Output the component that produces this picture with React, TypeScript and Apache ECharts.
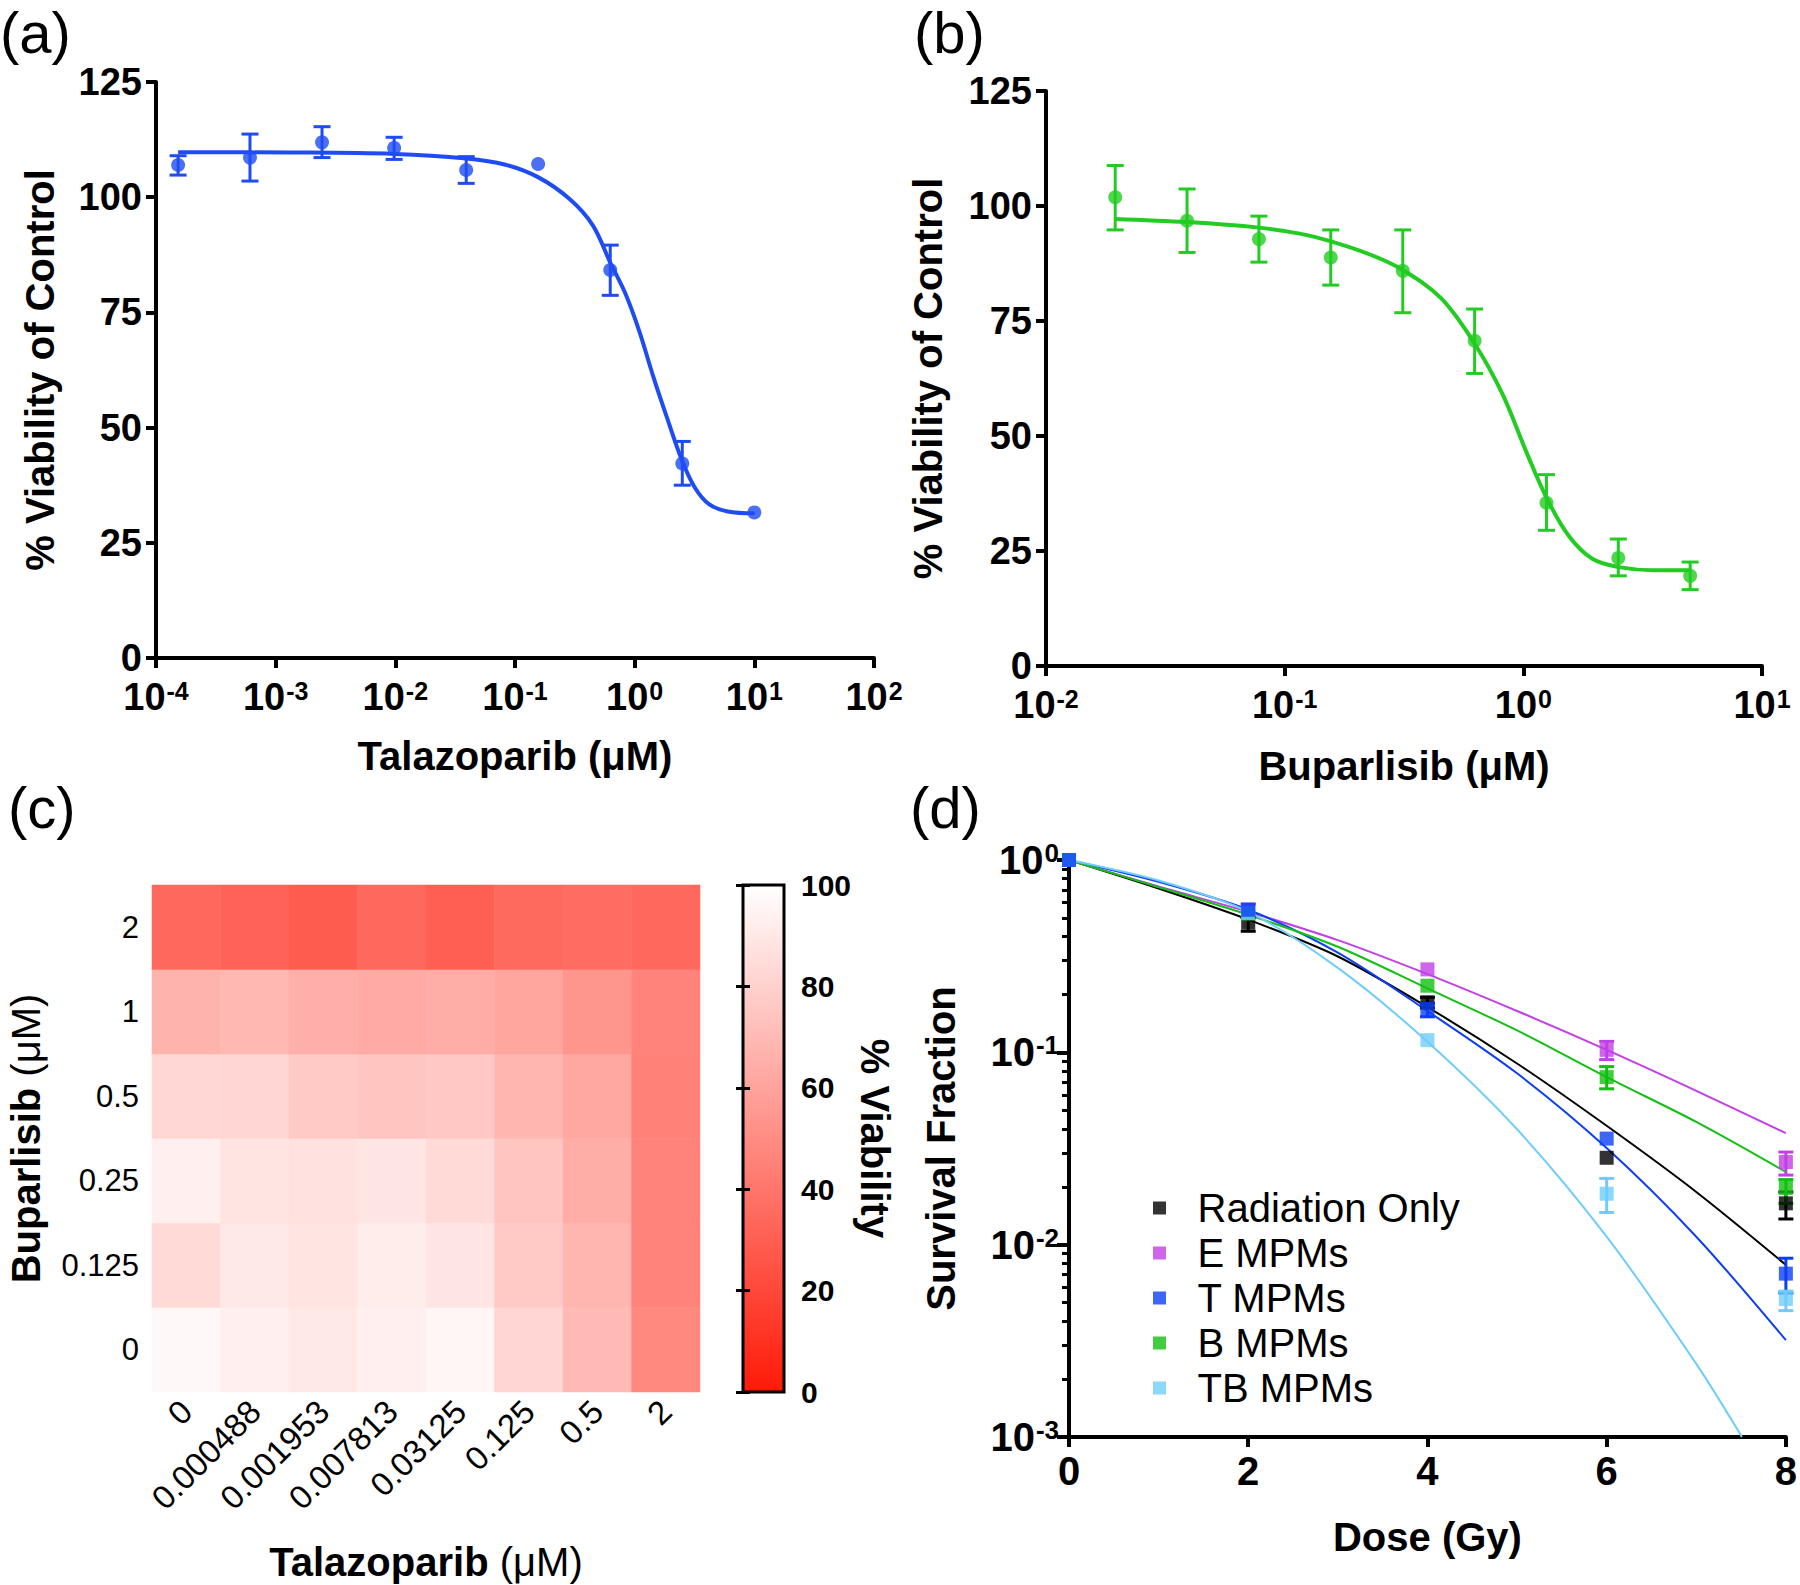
import React, { useEffect, useRef } from 'react';
import * as echarts from 'echarts';

const FONT = '"Liberation Sans", Arial, Helvetica, sans-serif';

// ---------- (a) Talazoparib dose response ----------
const talaDose = [0.000153, 0.00061, 0.00244, 0.00977, 0.0391, 0.156, 0.625, 2.5, 10];
const talaMean = [107.0, 108.6, 111.9, 110.7, 105.9, 107.2, 84.2, 42.2, 31.6];
const talaLow = [104.8, 103.5, 108.6, 108.2, 103.0, null, 78.7, 37.5, null];
const talaHigh = [109.0, 113.7, 115.3, 113.0, 108.8, null, 89.6, 47.0, null];
const talaFitDose = [0.000153, 0.00134, 0.0098, 0.0393, 0.0818, 0.157, 0.286, 0.447, 0.628, 0.836, 1.094, 1.429, 1.871, 2.512, 3.199, 4.178, 5.984, 10.05];
const talaFitViab = [109.75, 109.7, 109.4, 108.4, 107.1, 104.3, 99.6, 93.9, 85.7, 79.1, 70.9, 61.1, 52.0, 42.6, 36.9, 33.4, 31.8, 31.4];

// ---------- (b) Buparlisib dose response ----------
const bupDose = [0.0195, 0.039, 0.078, 0.156, 0.3125, 0.625, 1.25, 2.5, 5];
const bupMean = [101.9, 96.8, 92.8, 88.8, 85.9, 70.7, 35.5, 23.5, 19.6];
const bupLow = [94.8, 89.9, 87.8, 82.8, 76.8, 63.6, 29.5, 19.6, 16.6];
const bupHigh = [108.8, 103.7, 97.8, 94.8, 94.8, 77.6, 41.6, 27.6, 22.6];
const bupFitDose = [0.01936, 0.039, 0.0778, 0.1156, 0.1563, 0.229, 0.312, 0.453, 0.628, 0.818, 1.028, 1.25, 1.549, 1.945, 2.518, 3.508, 5.06];
const bupFitViab = [97.2, 96.5, 95.3, 94.0, 92.3, 89.4, 86.1, 79.9, 69.9, 59.1, 46.6, 36.6, 28.3, 23.3, 21.5, 20.8, 20.8];

// ---------- (c) combination heatmap ----------
const talaConc = ['0', '0.000488', '0.001953', '0.007813', '0.03125', '0.125', '0.5', '2'];
const bupConc = ['0', '0.125', '0.25', '0.5', '1', '2'];
const viabBup0 = [97, 93, 90, 93, 96, 82, 70, 48];
const viabBup0125 = [84, 90, 88, 92, 89, 77, 68, 46];
const viabBup025 = [93, 88, 87, 89, 84, 75, 64, 46];
const viabBup05 = [83, 82, 77, 75, 76, 68, 62, 45];
const viabBup1 = [67, 69, 65, 63, 64, 61, 54, 46];
const viabBup2 = [34, 32, 29, 34, 30, 35, 36, 34];
const heatRows = [viabBup0, viabBup0125, viabBup025, viabBup05, viabBup1, viabBup2];
const HEAT_LOW = '#ff1a08';
const HEAT_HIGH = '#ffffff';

// ---------- (d) clonogenic survival ----------
const doseGy = [0, 2, 4, 6, 8];
const groupNames = ['Radiation Only', 'E MPMs', 'T MPMs', 'B MPMs', 'TB MPMs'];
const groupColors = ['#000000', '#c040e6', '#0d3ef5', '#12bf12', '#6fcdfb'];
const radMean = [1, 0.472, 0.182, 0.0283, 0.0164];
const radLow = [null, 0.426, 0.170, null, 0.0136];
const radHigh = [null, 0.502, 0.193, null, 0.0188];
const eMean = [1, 0.55, 0.270, 0.103, 0.0269];
const eLow = [null, null, null, 0.0917, 0.0230];
const eHigh = [null, null, null, 0.114, 0.0303];
const tMean = [1, 0.551, 0.168, 0.0356, 0.00707];
const tLow = [null, 0.502, 0.153, null, 0.0056];
const tHigh = [null, 0.59, 0.180, null, 0.0085];
const bMean = [1, 0.526, 0.222, 0.0743, 0.0197];
const bLow = [null, null, null, 0.0646, 0.0164];
const bHigh = [null, null, null, 0.0843, 0.0218];
const tbMean = [1, 0.53, 0.1157, 0.0184, 0.00522];
const tbLow = [null, null, null, 0.0147, 0.00454];
const tbHigh = [null, null, null, 0.0221, 0.00573];
const fitDose = [0, 1, 2, 3, 4, 5, 6, 7, 8];
const radFit = [1, 0.711, 0.490, 0.315, 0.172, 0.0875, 0.0415, 0.0188, 0.00785];
const eFit = [1, 0.728, 0.538, 0.383, 0.255, 0.164, 0.103, 0.0631, 0.038];
const tFit = [1, 0.770, 0.551, 0.330, 0.164, 0.0778, 0.0318, 0.0110, 0.00319];
const bFit = [1, 0.722, 0.519, 0.354, 0.215, 0.130, 0.0743, 0.0435, 0.0239];
const tbFitDose = [0, 1, 2, 3, 4, 5, 6, 7, 7.51];
const tbFit = [1, 0.782, 0.538, 0.275, 0.1135, 0.0398, 0.011, 0.0024, 0.001];

const groupMeans = [radMean, eMean, tMean, bMean, tbMean];
const groupLows = [radLow, eLow, tLow, bLow, tbLow];
const groupHighs = [radHigh, eHigh, tHigh, bHigh, tbHigh];
const groupFitX = [fitDose, fitDose, fitDose, fitDose, tbFitDose];
const groupFitY = [radFit, eFit, tFit, bFit, tbFit];

// ---------- helpers ----------
const zip = (xs: number[], ys: number[]) => xs.map((x, i) => [x, ys[i]]);
const errData = (xs: number[], lo: (number | null)[], hi: (number | null)[]) =>
  xs.map((x, i) => [x, lo[i], hi[i]]).filter((d) => d[1] != null && d[2] != null);

const errorBar = (color: string, cap: number, width: number) => (params: any, api: any) => {
  const x = api.value(0);
  const lo = api.coord([x, api.value(1)]);
  const hi = api.coord([x, api.value(2)]);
  const style = { stroke: color, lineWidth: width, fill: 'none' };
  return {
    type: 'group',
    children: [
      { type: 'line', shape: { x1: lo[0], y1: lo[1], x2: hi[0], y2: hi[1] }, style },
      { type: 'line', shape: { x1: hi[0] - cap / 2, y1: hi[1], x2: hi[0] + cap / 2, y2: hi[1] }, style },
      { type: 'line', shape: { x1: lo[0] - cap / 2, y1: lo[1], x2: lo[0] + cap / 2, y2: lo[1] }, style },
    ],
  };
};

const pow10Label = (v: number) => `{b|10}{s|${Math.round(Math.log10(v))}}`;
const powRich = (size: number) => ({
  b: { fontSize: size, fontWeight: 'bold', fontFamily: FONT, color: '#000', lineHeight: size },
  s: {
    fontSize: Math.round(size * 0.66), fontWeight: 'bold', fontFamily: FONT, color: '#000',
    verticalAlign: 'top', lineHeight: Math.round(size * 0.66), padding: [0, 0, 6, 1],
  },
});

const axisLine = { show: true, onZero: false, lineStyle: { color: '#000', width: 4 } };
const axisTick = { show: true, length: 10, lineStyle: { color: '#000', width: 4 } };
const nameStyle = { fontSize: 40, fontWeight: 'bold', fontFamily: FONT, color: '#000' };
const boldLabel = (size: number, margin: number) => ({ fontSize: size, fontWeight: 'bold', fontFamily: FONT, color: '#000', margin });
const mixedRich = {
  b: { fontSize: 40, fontWeight: 'bold', fontFamily: FONT, color: '#000' },
  r: { fontSize: 40, fontFamily: FONT, color: '#000' },
};

// minor log ticks for panel (d): positions in decades
const minorTickPos: number[] = [];
for (let e = -3; e < 0; e++) for (let k = 2; k <= 9; k++) minorTickPos.push(e + Math.log10(k));

function buildOption(): any {
  const series: any[] = [];
  // (a)
  series.push({
    type: 'line', xAxisIndex: 0, yAxisIndex: 0, data: zip(talaFitDose, talaFitViab), smooth: 0.35,
    showSymbol: false, lineStyle: { color: '#1f4cf2', width: 4 }, z: 2,
  });
  series.push({
    type: 'custom', xAxisIndex: 0, yAxisIndex: 0, data: errData(talaDose, talaLow, talaHigh),
    encode: { x: 0, y: [1, 2] }, renderItem: errorBar('#1f4cf2', 17, 3), z: 3,
  });
  series.push({
    type: 'scatter', xAxisIndex: 0, yAxisIndex: 0, data: zip(talaDose, talaMean), symbol: 'circle',
    symbolSize: 14, itemStyle: { color: '#1f4cf2' }, z: 4,
  });
  // (b)
  series.push({
    type: 'line', xAxisIndex: 1, yAxisIndex: 1, data: zip(bupFitDose, bupFitViab), smooth: 0.35,
    showSymbol: false, lineStyle: { color: '#22cc22', width: 4 }, z: 2,
  });
  series.push({
    type: 'custom', xAxisIndex: 1, yAxisIndex: 1, data: errData(bupDose, bupLow, bupHigh),
    encode: { x: 0, y: [1, 2] }, renderItem: errorBar('#22cc22', 17, 3), z: 3,
  });
  series.push({
    type: 'scatter', xAxisIndex: 1, yAxisIndex: 1, data: zip(bupDose, bupMean), symbol: 'circle',
    symbolSize: 14, itemStyle: { color: '#22cc22' }, z: 4,
  });
  // (c) heatmap - series index 6
  const heatData: any[] = [];
  heatRows.forEach((row, yi) => row.forEach((v, xi) => heatData.push([xi, yi, v])));
  series.push({
    type: 'heatmap', xAxisIndex: 2, yAxisIndex: 2, data: heatData, itemStyle: { borderWidth: 0 },
  });
  // (d)
  groupNames.forEach((name, i) => {
    series.push({
      name: name + ' fit', type: 'line', xAxisIndex: 4, yAxisIndex: 5,
      data: zip(groupFitX[i], groupFitY[i]), smooth: 0.3, showSymbol: false,
      lineStyle: { color: groupColors[i], width: 2 }, z: 2,
    });
  });
  groupNames.forEach((name, i) => {
    series.push({
      name: name + ' err', type: 'custom', xAxisIndex: 4, yAxisIndex: 5,
      data: errData(doseGy, groupLows[i], groupHighs[i]), encode: { x: 0, y: [1, 2] },
      renderItem: errorBar(groupColors[i], 15, 3), z: 3,
    });
  });
  groupNames.forEach((name, i) => {
    series.push({
      name, type: 'scatter', xAxisIndex: 4, yAxisIndex: 5, data: zip(doseGy, groupMeans[i]),
      symbol: 'rect', symbolSize: 14, itemStyle: { color: groupColors[i] }, z: 4 + (i === 2 ? 1 : 0),
    });
  });

  return {
    animation: false,
    backgroundColor: '#ffffff',
    textStyle: { fontFamily: FONT },
    grid: [
      { left: 156, top: 82, width: 718, height: 576 },
      { left: 1046, top: 91, width: 716, height: 575 },
      { left: 152, top: 885, width: 548, height: 507 },
      {
        left: 743, top: 885, width: 41, height: 507, show: true, borderColor: '#000', borderWidth: 3,
        backgroundColor: new echarts.graphic.LinearGradient(0, 0, 0, 1, [
          { offset: 0, color: HEAT_HIGH },
          { offset: 1, color: HEAT_LOW },
        ]),
      },
      { left: 1069, top: 860, width: 720, height: 577 },
    ],
    xAxis: [
      {
        gridIndex: 0, type: 'log', logBase: 10, min: 0.0001, max: 100, axisLine, axisTick,
        splitLine: { show: false }, axisLabel: { formatter: pow10Label, rich: powRich(38), margin: 20 },
        name: 'Talazoparib (μM)', nameLocation: 'middle', nameGap: 78, nameTextStyle: nameStyle,
      },
      {
        gridIndex: 1, type: 'log', logBase: 10, min: 0.01, max: 10, axisLine, axisTick,
        splitLine: { show: false }, axisLabel: { formatter: pow10Label, rich: powRich(38), margin: 20 },
        name: 'Buparlisib (μM)', nameLocation: 'middle', nameGap: 80, nameTextStyle: nameStyle,
      },
      {
        gridIndex: 2, type: 'category', data: talaConc, axisLine: { show: false }, axisTick: { show: false },
        axisLabel: { rotate: 45, fontSize: 33, fontFamily: FONT, color: '#000', margin: 14, interval: 0 },
        name: '{b|Talazoparib }{r|(μM)}', nameLocation: 'middle', nameGap: 150,
        nameTextStyle: { rich: mixedRich },
      },
      { gridIndex: 3, type: 'value', show: false, min: 0, max: 1 },
      {
        gridIndex: 4, type: 'value', min: 0, max: 8, interval: 2, axisLine, axisTick,
        splitLine: { show: false }, axisLabel: boldLabel(40, 14),
        name: 'Dose (Gy)', nameLocation: 'middle', nameGap: 80, nameTextStyle: nameStyle,
      },
    ],
    yAxis: [
      {
        gridIndex: 0, type: 'value', min: 0, max: 125, interval: 25, axisLine, axisTick,
        splitLine: { show: false }, axisLabel: boldLabel(38, 14),
        name: '% Viability of Control', nameLocation: 'middle', nameGap: 96, nameTextStyle: nameStyle,
      },
      {
        gridIndex: 1, type: 'value', min: 0, max: 125, interval: 25, axisLine, axisTick,
        splitLine: { show: false }, axisLabel: boldLabel(38, 14),
        name: '% Viability of Control', nameLocation: 'middle', nameGap: 98, nameTextStyle: nameStyle,
      },
      {
        gridIndex: 2, type: 'category', data: bupConc, axisLine: { show: false }, axisTick: { show: false },
        axisLabel: { fontSize: 31, fontFamily: FONT, color: '#000', margin: 13 },
        name: '{b|Buparlisib }{r|(μM)}', nameLocation: 'middle', nameGap: 106,
        nameTextStyle: { rich: mixedRich },
      },
      {
        gridIndex: 3, type: 'value', position: 'right', min: 0, max: 100, interval: 20,
        axisLine: { show: false }, splitLine: { show: false },
        axisTick: { show: true, inside: true, length: 7, lineStyle: { color: '#000', width: 3 } },
        axisLabel: boldLabel(30, 17),
        name: '% Viability', nameLocation: 'middle', nameRotate: -90, nameGap: 64, nameTextStyle: nameStyle,
      },
      {
        gridIndex: 3, type: 'value', position: 'left', min: 0, max: 100, interval: 20,
        axisLine: { show: false }, splitLine: { show: false }, axisLabel: { show: false },
        axisTick: { show: true, inside: true, length: 7, lineStyle: { color: '#000', width: 3 } },
      },
      {
        gridIndex: 4, type: 'log', logBase: 10, min: 0.001, max: 1, axisLine,
        axisTick: { show: true, length: 12, lineStyle: { color: '#000', width: 4 } },
        splitLine: { show: false }, axisLabel: { formatter: pow10Label, rich: powRich(40), margin: 10 },
        name: 'Survival Fraction', nameLocation: 'middle', nameGap: 108, nameTextStyle: nameStyle,
      },
      {
        gridIndex: 4, type: 'value', min: -3, max: 0, position: 'left',
        axisLine: { show: false }, splitLine: { show: false }, axisLabel: { show: false },
        axisTick: { show: true, length: 7, customValues: minorTickPos, lineStyle: { color: '#000', width: 3 } },
      },
    ],
    visualMap: {
      show: false, type: 'continuous', min: 0, max: 100, seriesIndex: 6,
      inRange: { color: [HEAT_LOW, HEAT_HIGH] },
    },
    legend: {
      data: groupNames, orient: 'vertical', left: 1148, top: 1183, itemWidth: 66, itemHeight: 13,
      itemGap: 5, icon: 'path://M0,0L1,0L1,1L0,1Z', selectedMode: false,
      textStyle: { fontSize: 40, fontFamily: FONT, color: '#000' },
    },
    graphic: [
      { type: 'text', left: 0, top: 3, style: { text: '(a)', fontSize: 58, fontFamily: FONT, fill: '#000' } },
      { type: 'text', left: 914, top: 3, style: { text: '(b)', fontSize: 58, fontFamily: FONT, fill: '#000' } },
      { type: 'text', left: 8, top: 778, style: { text: '(c)', fontSize: 58, fontFamily: FONT, fill: '#000' } },
      { type: 'text', left: 910, top: 778, style: { text: '(d)', fontSize: 58, fontFamily: FONT, fill: '#000' } },
    ],
    series,
  };
}

export default function App() {
  const ref = useRef<HTMLDivElement>(null);
  useEffect(() => {
    if (!ref.current) return;
    const chart = echarts.init(ref.current, null, { renderer: 'svg' });
    chart.setOption(buildOption());
    return () => chart.dispose();
  }, []);
  return (
    <div
      ref={ref}
      style={{ position: 'fixed', left: 0, top: 0, width: 1800, height: 1585, background: '#fff' }}
    />
  );
}
